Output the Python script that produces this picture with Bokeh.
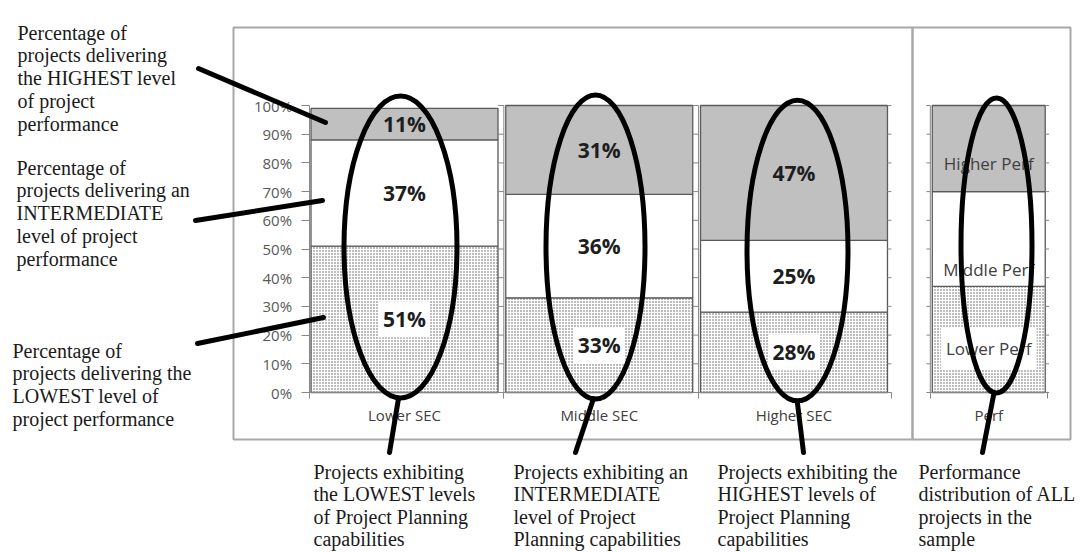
from bokeh.plotting import figure
from bokeh.models import Range1d, LinearAxis, FixedTicker, Label
from bokeh.embed import file_html
from bokeh.resources import INLINE

# ---------------- data ----------------
CATEGORIES = ["Lower SEC", "Middle SEC", "Higher SEC"]
LOWER_PERF = [51, 33, 28]      # share of projects with lowest performance
MIDDLE_PERF = [37, 36, 25]     # intermediate performance
HIGHER_PERF = [11, 31, 47]     # highest performance
PERF_CATEGORY = "Perf"
PERF_SHARES = [37, 33, 30]     # lower, middle, higher (all projects)
PERF_LABELS = ["Lower Perf", "Middle Perf", "Higher Perf"]
Y_TICKS = [0, 10, 20, 30, 40, 50, 60, 70, 80, 90, 100]
Y_TICK_LABELS = ["0%", "10%", "20%", "30%", "40%", "50%", "60%", "70%", "80%", "90%", "100%"]

LEFT_NOTES = [
    ["Percentage of", "projects delivering", "the HIGHEST level", "of project", "performance"],
    ["Percentage of", "projects delivering an", "INTERMEDIATE", "level of project", "performance"],
    ["Percentage of", "projects  delivering the", "LOWEST  level of", "project   performance"],
]
BOTTOM_NOTES = [
    ["Projects exhibiting", "the LOWEST levels", "of Project Planning", "capabilities"],
    ["Projects exhibiting an", "INTERMEDIATE", "level of Project", "Planning capabilities"],
    ["Projects exhibiting the", "HIGHEST levels of", "Project Planning", "capabilities"],
    ["Performance", "distribution of ALL", "projects in the", "sample"],
]

# ---------------- layout ----------------
W, H = 1086, 552
X0_PX, U_PX = 404.0, 194.75     # pixel x of first bar centre, px per category
Y0_PX, P_PX = 392.0, 2.87       # pixel y of 0 %, px per percent


def ux(px):
    return (px - X0_PX) / U_PX


def vy(py):
    return (Y0_PX - py) / P_PX


BAR_W = 0.96
PERF_X = 3.0
PERF_W = 0.58

p = figure(width=W, height=H, output_backend="svg", toolbar_location=None,
           x_axis_type=None, y_axis_type=None,
           x_range=Range1d(ux(0), ux(W)),
           y_range=Range1d(vy(H), vy(0)),
           min_border_left=0, min_border_right=0,
           min_border_top=0, min_border_bottom=0)
p.outline_line_color = None
p.background_fill_color = "white"
p.border_fill_color = "white"

BOX = "#a8a8a8"
OUT = "#5a5a5a"
AX = "#868686"
GRAY = "#c0c0c0"

# chart frames
p.quad(left=[ux(233), ux(912)], right=[ux(912), ux(1070)],
       bottom=[vy(439)] * 2, top=[vy(27)] * 2,
       fill_alpha=0, line_color=BOX, line_width=2)

# ---------------- stacked bars ----------------
xs = list(range(len(CATEGORIES)))
b1 = [0] * len(xs)
t1 = LOWER_PERF
t2 = [a + b for a, b in zip(t1, MIDDLE_PERF)]
t3 = [a + b for a, b in zip(t2, HIGHER_PERF)]

hatch = dict(fill_color="white", hatch_pattern="dot", hatch_scale=3,
             hatch_color="#5a5a5a", hatch_weight=1)
p.vbar(x=xs, bottom=b1, top=t1, width=BAR_W, line_color=OUT, line_width=1.3, **hatch)
p.vbar(x=xs, bottom=t1, top=t2, width=BAR_W, fill_color="white", line_color=OUT, line_width=1.3)
p.vbar(x=xs, bottom=t2, top=t3, width=BAR_W, fill_color=GRAY, line_color=OUT, line_width=1.3)

pc = [0]
for s in PERF_SHARES:
    pc.append(pc[-1] + s)
p.vbar(x=[PERF_X], bottom=[pc[0]], top=[pc[1]], width=PERF_W, line_color=OUT, line_width=1.3, **hatch)
p.vbar(x=[PERF_X], bottom=[pc[1]], top=[pc[2]], width=PERF_W, fill_color="white", line_color=OUT, line_width=1.3)
p.vbar(x=[PERF_X], bottom=[pc[2]], top=[pc[3]], width=PERF_W, fill_color=GRAY, line_color=OUT, line_width=1.3)

# ---------------- small sub-chart axes between bars ----------------
PL = PERF_X - PERF_W / 2 - 0.01
PR = PERF_X + PERF_W / 2 + 0.01
vx = [k - 0.49 for k in range(1, len(xs))] + [PL]
p.segment(x0=vx, x1=vx, y0=[0] * len(vx), y1=[100] * len(vx), line_color=AX, line_width=1)
sx0, sx1, sy = [], [], []
for t in Y_TICKS:
    for k in range(1, len(xs)):
        sx0.append(k - 0.52); sx1.append(k - 0.49); sy.append(t)
    sx0.append(len(xs) - 1 + BAR_W / 2); sx1.append(len(xs) - 1 + 0.5); sy.append(t)
    sx0.append(PL - 0.02); sx1.append(PL); sy.append(t)
    sx0.append(PR - 0.01); sx1.append(PR + 0.01); sy.append(t)
p.segment(x0=sx0, x1=sx1, y0=sy, y1=sy, line_color=AX, line_width=1)

# ---------------- axes ----------------
yaxis = LinearAxis(fixed_location=-0.49, ticker=FixedTicker(ticks=Y_TICKS), bounds=(0, 100),
                   major_label_overrides={t: l for t, l in zip(Y_TICKS, Y_TICK_LABELS)})
yaxis.axis_line_color = AX
yaxis.major_tick_line_color = AX
yaxis.major_tick_out = 8
yaxis.major_tick_in = 0
yaxis.minor_tick_line_color = None
yaxis.major_label_standoff = 9
yaxis.major_label_text_font = "Open Sans"
yaxis.major_label_text_font_size = "15px"
yaxis.major_label_text_color = "#595959"
p.add_layout(yaxis, "left")


def make_xaxis(ticks, minor, bounds, labels):
    ax = LinearAxis(fixed_location=0, ticker=FixedTicker(ticks=ticks, minor_ticks=minor),
                    bounds=bounds, major_label_overrides=dict(zip(ticks, labels)))
    ax.axis_line_color = AX
    ax.major_tick_out = 0
    ax.major_tick_in = 0
    ax.major_tick_line_color = None
    ax.minor_tick_out = 6
    ax.minor_tick_in = 0
    ax.minor_tick_line_color = AX
    ax.major_label_standoff = 6
    ax.major_label_text_font = "Open Sans"
    ax.major_label_text_font_size = "15px"
    ax.major_label_text_color = "#404040"
    return ax


p.add_layout(make_xaxis(xs, [-0.49] + [k + 0.51 for k in range(len(xs) - 1)] + [len(xs) - 0.5],
                        (-0.49, len(xs) - 0.5), CATEGORIES), "below")
p.add_layout(make_xaxis([PERF_X], [PL, PR], (PL, PR), [PERF_CATEGORY]), "below")

# ---------------- value labels ----------------
for i, x in enumerate(xs):
    segs = [(0, t1[i], LOWER_PERF[i], True), (t1[i], t2[i], MIDDLE_PERF[i], False),
            (t2[i], t3[i], HIGHER_PERF[i], False)]
    for lo, hi, v, bg in segs:
        p.add_layout(Label(x=x, y=(lo + hi) / 2, text=f"{v}%", text_align="center",
                           text_baseline="middle", text_font="Open Sans", text_font_style="bold",
                           text_font_size="21px", text_color="#1e1e1e",
                           background_fill_color="white" if bg else None, padding=4))

PERF_LABEL_DY = [-9, -31, -15]
for j, name in enumerate(PERF_LABELS):
    p.add_layout(Label(x=PERF_X, y=(pc[j] + pc[j + 1]) / 2, y_offset=PERF_LABEL_DY[j], text=name,
                       text_align="center", text_baseline="middle", text_font="Open Sans",
                       text_font_size="17px", text_color="#404040",
                       background_fill_color="white" if j == 0 else None,
                       padding=(5, 9) if j == 0 else 0))

# ---------------- hand-drawn ellipses and pointers ----------------
ELL = [(400, 93, 400, 118), (595, 92, 401, 104), (797, 97, 403, 106), (996, 95, 395, 76)]
LW = 5
e = p.ellipse(x=[ux(c) for c, _, _, _ in ELL], y=[vy((t + b) / 2) for _, t, b, _ in ELL],
              width=[(w - LW) / U_PX for _, _, _, w in ELL],
              height=[(b - t - LW) / P_PX for _, t, b, _ in ELL],
              fill_alpha=0, line_color="black", line_width=LW)
e.level = "overlay"

PTR = [((198, 68), (325, 122)), ((195, 220), (322, 200)), ((197, 343), (323, 317)),
       ((398, 398), (389, 452)), ((593, 398), (575, 452)), ((797, 403), (803, 452)),
       ((993, 395), (982, 452))]
s = p.segment(x0=[ux(a[0]) for a, _ in PTR], y0=[vy(a[1]) for a, _ in PTR],
              x1=[ux(b[0]) for _, b in PTR], y1=[vy(b[1]) for _, b in PTR],
              line_color="black", line_width=LW, line_cap="round")
s.level = "overlay"

# ---------------- text notes ----------------
LEFT_POS = [(17, 32), (16, 167), (12, 350)]
BOTTOM_X = [313, 513, 717, 918]
BOTTOM_Y0 = 471
LINE = 22.8
BLINE = 22.5


def note(xp, yp, txt):
    p.add_layout(Label(x=ux(xp), y=vy(yp), text=txt, text_align="left", text_baseline="alphabetic",
                       text_font="Liberation Serif", text_font_size="20px", text_color="#1a1a1a"))


for (xp, yp), lines in zip(LEFT_POS, LEFT_NOTES):
    for k, ln in enumerate(lines):
        note(xp, yp + k * LINE, ln)
for xp, lines in zip(BOTTOM_X, BOTTOM_NOTES):
    for k, ln in enumerate(lines):
        note(xp, BOTTOM_Y0 + k * BLINE, ln)

open("out.html", "w").write(file_html(p, INLINE))
